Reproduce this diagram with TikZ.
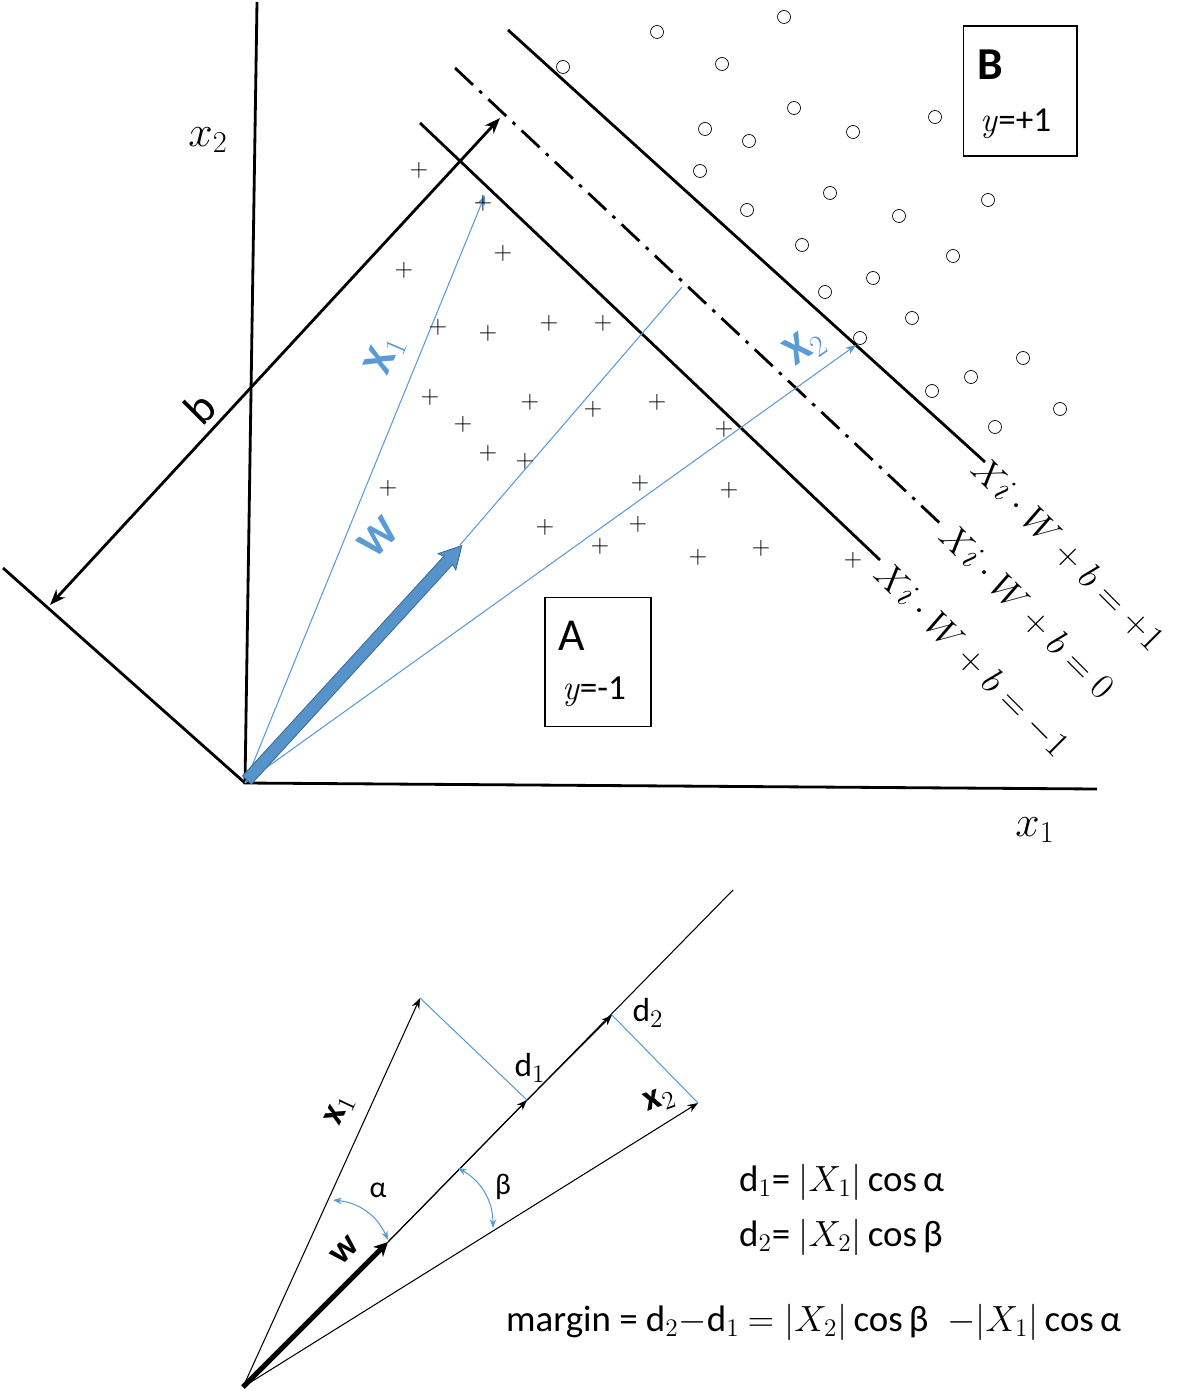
\documentclass[tikz,border=0pt]{standalone}
\usepackage{fontspec}
\setsansfont{Carlito}
\usetikzlibrary{arrows.meta}
\definecolor{bl}{RGB}{91,155,213}
\begin{document}
\begin{tikzpicture}[x=0.02cm,y=-0.02cm,
  ax/.style={line width=1.6pt},
  bv/.style={bl,line width=0.6pt,-{Stealth[length=6pt]}},
  kv/.style={black,line width=0.6pt,-{Stealth[length=6pt]}},
  pl/.style={font=\fontsize{14}{14}\selectfont},
  ci/.style={draw,circle,inner sep=0pt,minimum size=0.26cm},
  eq/.style={font=\fontsize{22}{26}\selectfont,rotate=-45,anchor=north west},
  sf/.style={font=\sffamily\fontsize{19}{23}\selectfont}]
\useasboundingbox (0,0) rectangle (1195,1391);
% axes
\coordinate (O) at (245,783);
\draw[ax] (257,2) -- (O) -- (1097,789);
\node[font=\fontsize{24}{28}\selectfont] (lx2) at (208,140) {$x_2$};
\node[font=\fontsize{24}{28}\selectfont] (lx1) at (1035,830) {$x_1$};
% hyperplanes
\draw[ax] (420,123) -- (880,560);
\draw[ax,dash pattern=on 14pt off 5pt on 2pt off 5pt] (455,68) -- (945,528);
\draw[ax] (508,30) -- (985,462);
\draw[ax] (3,568) -- (O);
\node[eq] (e1) at (890,550) {$Xi\cdot W+b=-1$};
\node[eq] (e0) at (955,512) {$Xi\cdot W+b=0$};
\node[eq] (e2) at (987,445) {$Xi\cdot W+b=+1$};
% b
\draw[ax,{Stealth[length=9pt]}-{Stealth[length=9pt]}] (50,605) -- (500,118);
\node[font=\sffamily\fontsize{26}{30}\selectfont,rotate=45] (lb) at (200,408) {b};
% vectors
\coordinate (W) at (460,545);
\draw[bl,line width=0.6pt] (W) -- (682,287);
\draw[bv] (O) -- (485,195);
\draw[bv] (O) -- (856,345);
\begin{scope}[shift={(247,780)},rotate=47.5,x=0.02cm,y=0.02cm]
\draw[draw=bl!70!black,fill=bl!95!black,line width=0.5pt] (0,-6) -- (298,-6) -- (296,-12) -- (318,0) -- (296,12) -- (298,6) -- (0,6) -- cycle;
\end{scope}
\node[bl,font=\sffamily\bfseries\fontsize{24}{28}\selectfont,rotate=67] (lX1) at (385,355) {X$_1$};
\node[bl,font=\sffamily\bfseries\fontsize{24}{28}\selectfont,rotate=45] (lW) at (378,537) {W};
\node[bl,font=\sffamily\bfseries\fontsize{24}{28}\selectfont,rotate=35] (lX2) at (805,347) {X$_2$};
% boxes
\node[draw,line width=0.6pt,minimum width=2.12cm,minimum height=2.58cm] (A) at (598,662) {};
\node[font=\sffamily\fontsize{26}{30}\selectfont] at (572,636) {A};
\node[font=\fontsize{20}{24}\selectfont] at (594,692) {\textit{y}\textsf{=-1}};
\node[draw,line width=0.6pt,minimum width=2.28cm,minimum height=2.6cm] (B) at (1020,91) {};
\node[font=\sffamily\bfseries\fontsize{26}{30}\selectfont] at (990,65) {B};
\node[font=\fontsize{20}{24}\selectfont] at (1016,124) {\textit{y}\textsf{=+1}};
% plus
\foreach \p in {(419,170),(483,203),(404,270),(503,253),(438,327),(488,333),(549,323),(603,323),(430,397),(530,402),(593,409),(657,402),(463,424),(488,453),(525,461),(724,429),(388,488),(640,483),(729,490),(545,527),(638,524),(600,546),(698,557),(761,548),(853,560)}
  \node[pl] at \p {+};
\foreach \p in {(657,32),(784,17),(563,67),(722,64),(705,129),(794,108),(749,141),(853,132),(935,117),(700,171),(830,193),(747,210),(899,216),(988,200),(802,245),(953,256),(873,278),(825,292),(912,318),(860,338),(1023,358),(971,377),(932,391),(1060,409),(995,427)}
  \node[ci] at \p {};
% bottom diagram
\coordinate (o) at (243,1387);
\coordinate (w) at (388,1242);
\coordinate (p1) at (527,1100);
\coordinate (p2) at (612,1015);
\coordinate (q1) at (420,998);
\coordinate (q2) at (698,1103);
\draw[line width=0.6pt] (w) -- (733,890);
\draw[kv] (w) -- (p1);
\draw[kv] (p1) -- (p2);
\draw[line width=3pt,-{Stealth[length=8pt,width=8pt]}] (o) -- (w);
\draw[kv] (o) -- (q1);
\draw[kv] (o) -- (q2);
\draw[bl,line width=0.6pt] (q1) -- (p1);
\draw[bl,line width=0.6pt] (q2) -- (p2);
\draw[bl,line width=0.6pt,{Stealth[length=5pt]}-{Stealth[length=5pt]}] (333,1200) to[bend left=30] (388,1240);
\draw[bl,line width=0.6pt,{Stealth[length=5pt]}-{Stealth[length=5pt]}] (458,1168) to[bend left=30] (493,1228);
\node[font=\sffamily\fontsize{17}{20}\selectfont] (la) at (378,1190) {α};
\node[font=\sffamily\fontsize{17}{20}\selectfont] (lbt) at (503,1187) {β};
\node[sf] (ld1) at (530,1068) {d$_1$};
\node[sf] (ld2) at (648,1013) {d$_2$};
\node[font=\sffamily\bfseries\fontsize{21}{25}\selectfont,rotate=65] (lx1b) at (340,1110) {x$_1$};
\node[font=\sffamily\bfseries\fontsize{21}{25}\selectfont,rotate=20] (lx2b) at (660,1100) {x$_2$};
\node[font=\sffamily\bfseries\fontsize{21}{25}\selectfont,rotate=45] (lwb) at (345,1250) {w};
\node[font=\sffamily\fontsize{21}{25}\selectfont,anchor=west] (eqa) at (733,1182) {d$_1$= $|X_1|$\,cos\,α};
\node[font=\sffamily\fontsize{21}{25}\selectfont,anchor=west] (eqb) at (733,1237) {d$_2$= $|X_2|$\,cos\,β};
\node[font=\sffamily\fontsize{21}{25}\selectfont,anchor=west] (eqc) at (500,1322) {margin = d$_2$$-$d$_1$ $=|X_2|$\,cos\,β\; $-|X_1|$\,cos\,α};
\end{tikzpicture}
\end{document}
